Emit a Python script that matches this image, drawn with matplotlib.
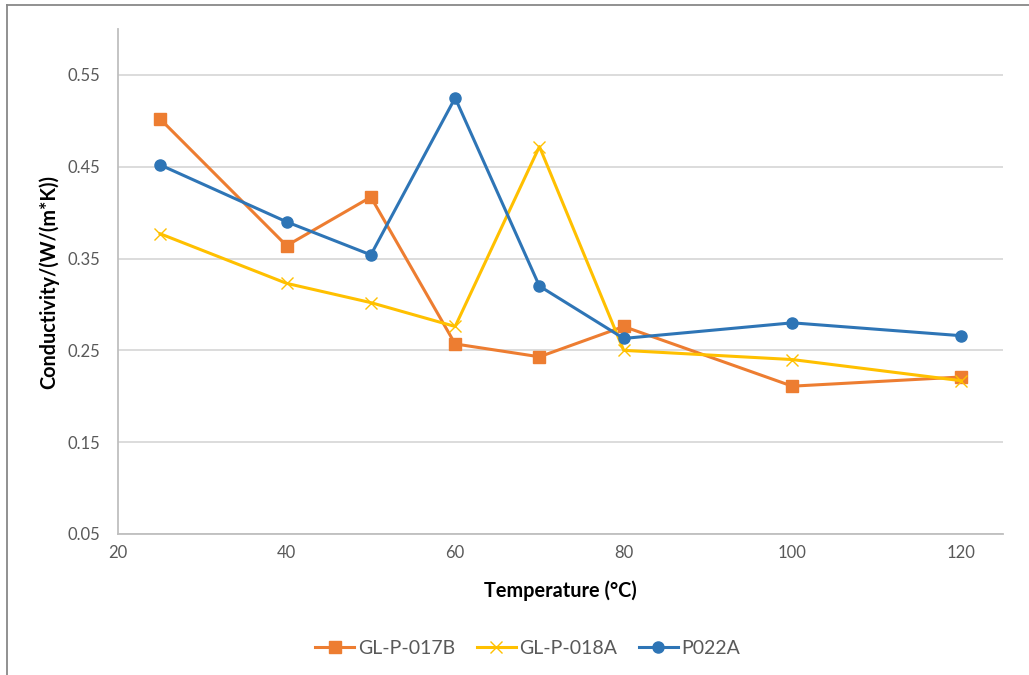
import matplotlib
matplotlib.use("Agg")
import matplotlib.pyplot as plt
from matplotlib.lines import Line2D

plt.rcParams['font.family'] = ['Lato', 'DejaVu Sans']

# Measured thermal conductivity vs. temperature
temperature = [25, 40, 50, 60, 70, 80, 100, 120]
gl_p_017b = [0.502, 0.364, 0.417, 0.257, 0.243, 0.276, 0.211, 0.221]
gl_p_018a = [0.377, 0.323, 0.302, 0.276, 0.472, 0.250, 0.240, 0.217]
p022a = [0.452, 0.390, 0.354, 0.525, 0.320, 0.263, 0.280, 0.266]

series_names = ["GL-P-017B", "GL-P-018A", "P022A"]
x_ticks = [20, 40, 60, 80, 100, 120]
y_ticks = [0.05, 0.15, 0.25, 0.35, 0.45, 0.55]

fig = plt.figure(figsize=(10.29, 6.75), dpi=100, facecolor='w')
ax = fig.add_axes([0.1147, 0.2089, 0.8600, 0.7481])

ax.plot(temperature, gl_p_017b, color='#ED7D31', lw=2.2, marker='s', ms=8.5,
        label=series_names[0], zorder=3)
ax.plot(temperature, gl_p_018a, color='#FFC000', lw=2.2, marker='x', ms=9,
        mew=1.0, label=series_names[1], zorder=3)
ax.plot(temperature, p022a, color='#2E75B6', lw=2.2, marker='o', ms=8,
        label=series_names[2], zorder=3)

ax.set_xlim(20, 125)
ax.set_ylim(0.05, 0.60)
ax.set_xticks(x_ticks)
ax.set_yticks(y_ticks)
ax.set_yticklabels(["%.2f" % v for v in y_ticks])

ax.grid(axis='y', color='#D9D9D9', lw=1.3)
ax.set_axisbelow(True)
for side in ['top', 'right']:
    ax.spines[side].set_visible(False)
for side in ['left', 'bottom']:
    ax.spines[side].set_color('#BFBFBF')
    ax.spines[side].set_linewidth(1.3)
ax.tick_params(length=0, labelsize=12, labelcolor='#595959')
ax.tick_params(axis='x', pad=8)
ax.tick_params(axis='y', pad=13)

ax.set_xlabel("Temperature (°C)", fontsize=14.3, fontweight='bold', labelpad=14)
ax.set_ylabel("Conductivity/(W/(m*K))", fontsize=14.3, fontweight='bold', labelpad=6)

ax.legend(loc='center', bbox_to_anchor=(0.513, 0.040), bbox_transform=fig.transFigure,
          ncol=3, frameon=False, fontsize=14, labelcolor='#595959',
          handlelength=2.0, columnspacing=1.1, handletextpad=0.2)

# partial chart-area border (left and top edges)
fig.add_artist(Line2D([0.0068, 0.0068], [0.0, 0.9926], color='#888888', lw=1.3,
                      transform=fig.transFigure))
fig.add_artist(Line2D([0.0068, 1.0], [0.9926, 0.9926], color='#888888', lw=1.3,
                      transform=fig.transFigure))

fig.savefig("out.png", dpi=100, facecolor='w')
